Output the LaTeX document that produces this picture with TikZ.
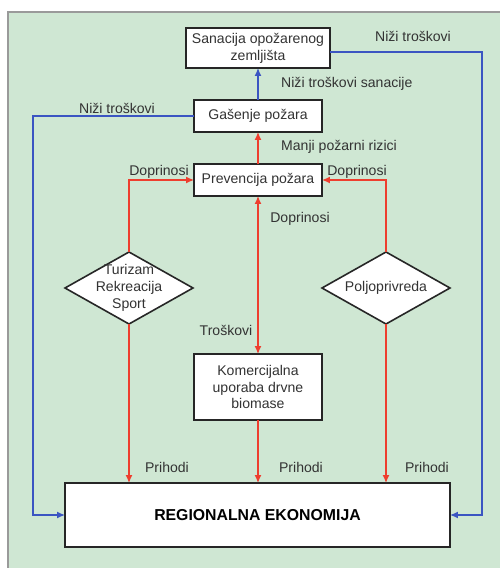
\documentclass[tikz,border=0pt]{standalone}
\usepackage{fontspec}
\setmainfont{Liberation Sans}
\usetikzlibrary{shapes.geometric,arrows.meta}
\definecolor{panelgreen}{HTML}{CFE7D3}
\definecolor{panelgray}{HTML}{9A9A9A}
\definecolor{linkred}{HTML}{EE3E2E}
\definecolor{linkblue}{HTML}{3B55C2}
\definecolor{txtgray}{HTML}{333333}
\begin{document}
\begin{tikzpicture}[
  >={Latex[length=4.5pt,width=4pt]},
  every node/.style={font=\fontsize{8}{9.6}\selectfont,text=txtgray},
  boxnode/.style={draw=black!85,fill=white,line width=1.1pt,align=center,inner sep=0pt,outer sep=0pt},
  rombnode/.style={diamond,draw=black!85,fill=white,line width=0.9pt,inner sep=0pt,outer sep=0pt},
  redlink/.style={draw=linkred,line width=0.8pt},
  bluelink/.style={draw=linkblue,line width=0.8pt},
]
\useasboundingbox (0,0) rectangle (10,11.36);
%\draw[step=1cm,gray,very thin] (0,0) grid (10,11); 
\fill[panelgreen] (0.16,-0.1) rectangle (10.1,11.12);
\draw[panelgray,line width=0.8pt] (0.16,-0.1)--(0.16,11.12)--(10.1,11.12);
%.............................
\node[boxnode,minimum width=2.88cm,minimum height=0.8cm] (sanacija) at (5.16,10.4) {Sanacija opožarenog\\zemljišta};
\node[boxnode,minimum width=2.56cm,minimum height=0.64cm] (gasenje) at (5.16,9.04) {Gašenje požara};
\node[boxnode,minimum width=2.56cm,minimum height=0.64cm] (prevencija) at (5.16,7.76) {Prevencija požara};
\node[boxnode,minimum width=2.56cm,minimum height=1.32cm] (komercijalna) at (5.16,3.62) {Komercijalna\\uporaba drvne\\biomase};
\node[boxnode,minimum width=7.7cm,minimum height=1.28cm,font=\fontsize{9}{11}\selectfont\bfseries,text=black] (regionalna) at (5.15,1.06) {REGIONALNA EKONOMIJA};
%.............................
\node[rombnode,minimum width=2.56cm,minimum height=1.44cm] (turizam) at (2.58,5.6) {};
\node[align=center] (turizamtxt) at (turizam.center) {Turizam\\Rekreacija\\Sport};
\node[rombnode,minimum width=2.56cm,minimum height=1.44cm] (poljo) at (7.72,5.6) {};
\node[] (poljotxt) at (poljo.center) {Poljoprivreda};
%.............................
\coordinate (rcorner) at (9.64,10.32);
\coordinate (lcorner) at (0.66,9.04);
\draw[bluelink,->] (gasenje.north)--(sanacija.south);
\draw[bluelink,->] (rcorner-|sanacija.east)--(rcorner)|-(regionalna.east);
\draw[bluelink,->] (gasenje.west)--(lcorner)|-(regionalna.west);
\draw[redlink,->] (prevencija.north)--(gasenje.south);
\draw[redlink,<->] (prevencija.south)--(komercijalna.north);
\draw[redlink,->] (turizam.north)|-(prevencija.west);
\draw[redlink,->] (poljo.north)|-(prevencija.east);
\draw[redlink,->] (turizam.south)--(turizam.south|-regionalna.north);
\draw[redlink,->] (komercijalna.south)--(regionalna.north-|komercijalna.south);
\draw[redlink,->] (poljo.south)--(poljo.south|-regionalna.north);
%.............................
\node[] (lbla) at (8.26,10.64) {Niži troškovi};
\node[anchor=west] (lblb) at (5.5,9.68) {Niži troškovi sanacije};
\node[] (lblc) at (2.34,9.2) {Niži troškovi};
\node[anchor=west] (lbld) at (5.5,8.42) {Manji požarni rizici};
\node[] (lble) at (3.18,7.92) {Doprinosi};
\node[] (lblf) at (7.14,7.92) {Doprinosi};
\node[] (lblg) at (6.0,6.98) {Doprinosi};
\node[] (lblh) at (4.52,4.76) {Troškovi};
\node[] (lbli) at (3.34,2.02) {Prihodi};
\node[] (lblj) at (6.02,2.02) {Prihodi};
\node[] (lblk) at (8.54,2.02) {Prihodi};
\end{tikzpicture}
\end{document}
